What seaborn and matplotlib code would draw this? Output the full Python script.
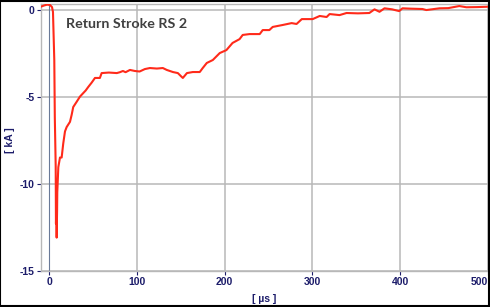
import matplotlib
matplotlib.use("Agg")
import matplotlib.pyplot as plt
import seaborn as sns
import pandas as pd
from matplotlib.patches import Rectangle

# time in microseconds
time_us = [-9.8, -6.0, -2.6, 0.8, 3.1, 4.2, 5.7, 6.3, 7.3, 7.6, 8.0, 8.4, 8.9, 9.1,
           10.3, 12.2, 14.1, 15.9, 17.9, 19.8, 23.6, 25.5, 27.3, 31.2, 35.0, 38.7,
           41.5, 44.4, 48.3, 52.1, 57.7, 59.7, 68.0, 77.0, 80.5, 84.0, 87.0, 92.0,
           97.6, 103.0, 109.0, 114.7, 122.7, 129.5, 134.0, 141.0, 146.6, 150.0,
           152.3, 157.0, 163.7, 171.6, 175.0, 179.6, 186.5, 194.4, 202.0, 209.0,
           217.0, 220.6, 228.5, 240.0, 243.4, 251.0, 254.8, 266.0, 276.4, 282.0,
           288.0, 300.4, 308.4, 316.3, 319.7, 331.0, 339.0, 352.0, 365.0, 370.9,
           376.6, 382.3, 391.0, 399.0, 402.8, 412.0, 425.6, 430.0, 445.0, 455.0,
           467.6, 475.7, 488.0, 500.0]
# current in kA
current_ka = [0.16, 0.23, 0.28, 0.26, 0.14, -0.14, -2.9, -6.2, -9.0, -12.3, -11.6, -13.1, -11.5, -10.5,
              -9.05, -8.5, -8.5, -7.7, -7.0, -6.75, -6.45, -6.05, -5.6, -5.3, -5.0, -4.8,
              -4.65, -4.45, -4.2, -3.93, -3.93, -3.65, -3.62, -3.65, -3.6, -3.53, -3.6, -3.47,
              -3.53, -3.56, -3.42, -3.36, -3.39, -3.36, -3.47, -3.59, -3.65, -3.82,
              -3.93, -3.65, -3.59, -3.59, -3.36, -3.07, -2.9, -2.5, -2.33, -1.92,
              -1.7, -1.46, -1.41, -1.41, -1.18, -1.18, -1.0, -0.89, -0.78, -0.83,
              -0.55, -0.55, -0.37, -0.43, -0.26, -0.32, -0.2, -0.22, -0.2, 0.01,
              -0.13, 0.07, 0.01, -0.09, 0.07, 0.05, 0.03, -0.03, 0.07, 0.08,
              0.2, 0.13, 0.14, 0.16]

x_ticks = [0, 100, 200, 300, 400, 500]
y_ticks = [0, -5, -10, -15]
y_tick_labels = ["0", "-5", "-10", "-15"]
title_text = "Return Stroke RS 2"
x_label = "[ µs ]"
y_label = "[ kA ]"

df = pd.DataFrame({"t": time_us, "i": current_ka})

sns.set_style("white")
plt.rcParams["font.family"] = ["Liberation Sans", "DejaVu Sans"]

fig = plt.figure(figsize=(4.9, 3.07), dpi=100)
ax = fig.add_axes([40.7 / 490, 36.3 / 307, (487.7 - 40.7) / 490, (270.7 - 4.3) / 307])

navy = "#1c1c6a"
gridc = "#b8b8b8"

ax.set_xlim(-9.8, 500)
ax.set_ylim(-15, 0.3)
ax.set_xticks(x_ticks)
ax.set_yticks(y_ticks)
ax.set_yticklabels(y_tick_labels)
for v in x_ticks[1:]:
    ax.axvline(v, color=gridc, lw=1.1, zorder=0)
for v in y_ticks:
    ax.axhline(v, color=gridc, lw=1.1, zorder=0)
ax.axvline(0, color="#6a7a98", lw=0.8, zorder=1)

sns.lineplot(data=df, x="t", y="i", ax=ax, color="#ff2a1a", lw=1.5, zorder=3)

ax.set_xlabel("")
ax.set_ylabel("")
for s in ax.spines.values():
    s.set_color(gridc)
    s.set_linewidth(1.0)
ax.tick_params(axis="both", length=3, width=0.8, color=navy, labelcolor=navy,
               labelsize=7.5, pad=1.5, direction="out", bottom=True, left=True)
for lab in ax.get_xticklabels() + ax.get_yticklabels():
    lab.set_fontweight("bold")
ax.get_xticklabels()[-1].set_horizontalalignment("right")

ax.text(65.7 / 490, 1 - 24 / 307, title_text, transform=fig.transFigure,
        fontsize=10.3, fontweight="bold", color="#404040", ha="left", va="center",
        family=["Lato", "DejaVu Sans"])
fig.text(10 / 490, 1 - 140 / 307, y_label, rotation=90, ha="center", va="center",
         fontsize=7.5, fontweight="bold", color=navy)
fig.text(264 / 490, 1 - 299 / 307, x_label, ha="center", va="center",
         fontsize=7.5, fontweight="bold", color=navy)

fig.patches.append(Rectangle((0.001, 0.002), 0.997, 0.996, transform=fig.transFigure,
                             fill=False, edgecolor="black", lw=1.5, zorder=10))

fig.savefig("out.png", dpi=100)
